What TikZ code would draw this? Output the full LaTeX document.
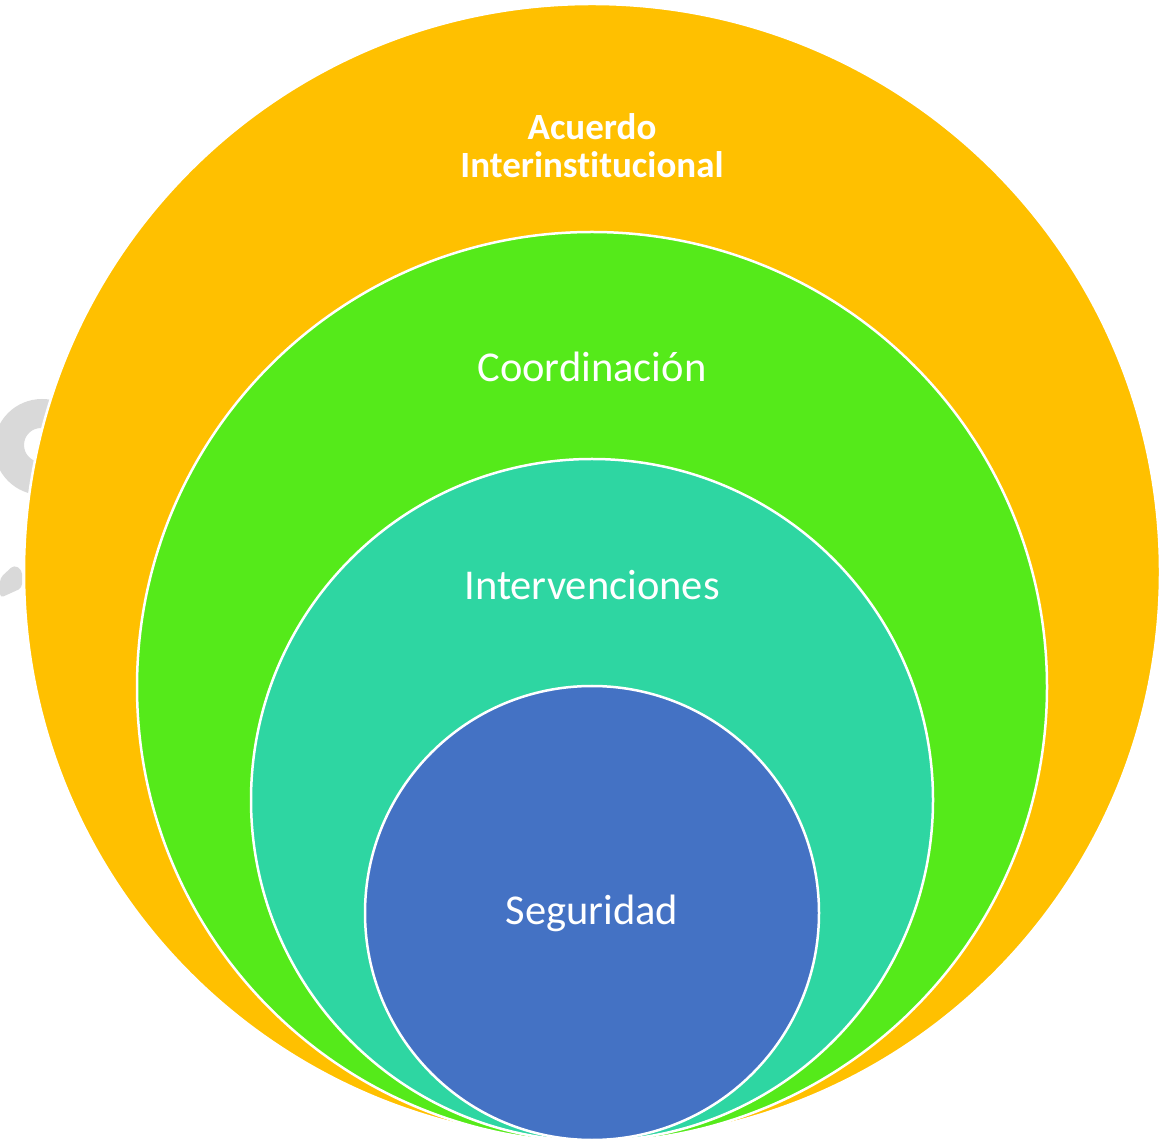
\documentclass[tikz,border=0pt]{standalone}
\usepackage{fontspec}
\setmainfont[Ligatures=NoCommon]{Carlito}
\definecolor{cyellow}{HTML}{FFC000}
\definecolor{cgreen}{HTML}{55EA1A}
\definecolor{cteal}{HTML}{2ED6A2}
\definecolor{cblue}{HTML}{4472C4}
\definecolor{wmgray}{HTML}{D9D9D9}
\begin{document}
\begin{tikzpicture}[x=1pt,y=1pt,
  ring/.style={draw=white,line width=2.5pt},
  lbl/.style={text=white,font=\fontsize{42.5}{44}\selectfont,align=center},
  blbl/.style={text=white,font=\bfseries\fontsize{37}{38}\selectfont,align=center}]
\useasboundingbox (0,0) rectangle (1166,1146);
% watermark fragments
\fill[wmgray,even odd rule] (42,699) circle (48) (41,701) circle (17);
\fill[wmgray,rounded corners=4pt] (0,568) -- (14,581) -- (22,576) -- (22,558) -- (0,548) -- cycle;
% circles
\filldraw[ring,fill=cyellow] (592,574) coordinate (cY) circle (568);
\filldraw[ring,fill=cgreen] (592,459) coordinate (cG) circle (455);
\filldraw[ring,fill=cteal] (592,346) coordinate (cT) circle (341);
\filldraw[ring,fill=cblue] (592,233) coordinate (cB) circle (227);
% labels
\node[blbl] (tY) at (592,1000) {Acuerdo\\Interinstitucional};
\node[lbl] (tG) at (592,779) {Coordinación};
\node[lbl] (tT) at (592,561) {Intervenciones};
\node[lbl] (tB) at (592,233) {Seguridad};
\end{tikzpicture}
\end{document}
